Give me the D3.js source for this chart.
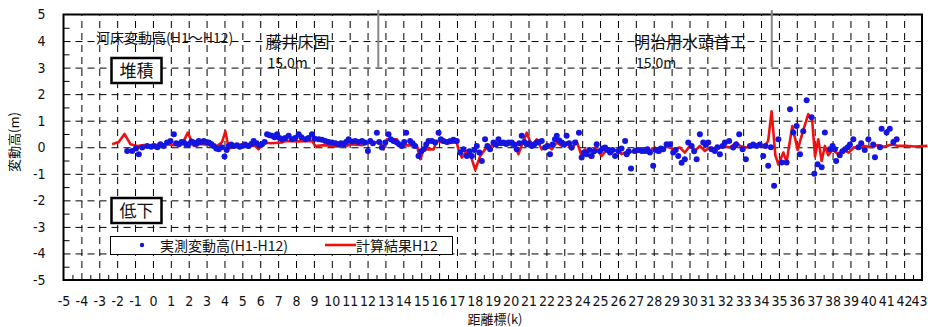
<!DOCTYPE html>
<html>
<head>
<meta charset="utf-8">
<script src="https://cdn.jsdelivr.net/npm/d3@7"></script>
<style>
  html, body { margin: 0; padding: 0; background: #fff; }
  svg { display: block; }
  text { font-family: "Noto Sans CJK JP", "Liberation Sans", sans-serif; }
  .tick text { font-family: "Liberation Sans Narrow", "DejaVu Sans Condensed", "Liberation Sans", sans-serif; }
</style>
</head>
<body>
<svg id="chart" width="928" height="327"></svg>
<script>
// 距離標 (k) of the measured bed-change points
const measuredK = [
  -1.44, -1.16, -0.95, -0.79, -0.6, -0.32, -0.1, 0.05, 0.25, 0.42, 0.6, 0.79, 0.98, 1.17, 1.3, 1.45,
  1.6, 1.73, 1.87, 2.0, 2.15, 2.28, 2.42, 2.56, 2.7, 2.84, 2.98, 3.12, 3.26, 3.4, 3.54, 3.68,
  3.85, 4.0, 4.12, 4.24, 4.38, 4.52, 4.7, 4.85, 4.98, 5.15, 5.35, 5.5, 5.63, 5.8, 5.95, 6.1,
  6.24, 6.38, 6.52, 6.66, 6.8, 6.94, 7.08, 7.22, 7.4, 7.59, 7.78, 7.95, 8.15, 8.3, 8.52, 8.7,
  8.89, 9.05, 9.27, 9.45, 9.64, 9.82, 10.01, 10.2, 10.38, 10.52, 10.66, 10.8, 10.94, 11.12, 11.31, 11.5,
  11.69, 11.85, 12.02, 12.15, 12.3, 12.52, 12.65, 12.8, 12.99, 13.17, 13.3, 13.45, 13.64, 13.78, 13.92, 14.05,
  14.16, 14.38, 14.52, 14.66, 14.85, 15.0, 15.13, 15.28, 15.41, 15.6, 15.78, 15.97, 16.1, 16.25, 16.45, 16.62,
  16.8, 16.99, 17.18, 17.36, 17.55, 17.7, 17.83, 17.97, 18.11, 18.25, 18.39, 18.57, 18.7, 18.85, 19.04, 19.18,
  19.32, 19.46, 19.6, 19.75, 19.88, 20.06, 20.2, 20.34, 20.48, 20.62, 20.76, 20.9, 21.04, 21.18, 21.32, 21.46,
  21.6, 21.74, 21.92, 22.06, 22.2, 22.34, 22.48, 22.58, 22.72, 22.86, 23.0, 23.13, 23.27, 23.41, 23.6, 23.82,
  23.97, 24.1, 24.25, 24.4, 24.53, 24.67, 24.81, 25.0, 25.14, 25.28, 25.42, 25.56, 25.7, 25.84, 26.02, 26.2,
  26.4, 26.49, 26.6, 26.73, 26.95, 27.12, 27.33, 27.51, 27.65, 27.79, 27.97, 28.1, 28.25, 28.4, 28.53, 28.72,
  28.91, 29.09, 29.23, 29.37, 29.56, 29.74, 29.93, 30.12, 30.26, 30.4, 30.58, 30.77, 30.9, 31.05, 31.23, 31.42,
  31.56, 31.7, 31.85, 31.98, 32.22, 32.44, 32.6, 32.78, 32.97, 33.15, 33.38, 33.56, 33.75, 33.93, 34.12, 34.25,
  34.4, 34.55, 34.73, 34.97, 35.15, 35.43, 35.62, 35.8, 35.99, 36.18, 36.36, 36.55, 36.83, 36.98, 37.16, 37.39,
  37.57, 37.85, 38.0, 38.13, 38.2, 38.4, 38.55, 38.7, 38.85, 38.97, 39.16, 39.44, 39.6, 39.8, 40.0, 40.27,
  40.37, 40.65, 40.74, 41.02, 41.2, 41.4, 41.58
];
// 実測変動高 (H1-H12), m
const measuredDz = [
  -0.14, -0.14, -0.05, -0.26, -0.01, 0.05, 0.02, 0.05, 0.0, 0.11, 0.05, 0.18, 0.24, 0.49, 0.15, 0.11,
  0.2, 0.18, 0.1, 0.11, 0.22, 0.18, 0.12, 0.24, 0.2, 0.24, 0.2, 0.18, 0.12, 0.05, -0.05, -0.08,
  0.0, -0.35, -0.1, 0.05, 0.1, 0.05, 0.08, 0.02, 0.05, 0.1, 0.05, 0.12, 0.24, 0.15, 0.08, 0.11,
  0.2, 0.49, 0.45, 0.43, 0.38, 0.49, 0.35, 0.3, 0.35, 0.43, 0.3, 0.35, 0.49, 0.38, 0.3, 0.35,
  0.49, 0.32, 0.3, 0.28, 0.24, 0.2, 0.18, 0.15, 0.11, 0.15, 0.11, 0.2, 0.3, 0.22, 0.24, 0.2,
  0.24, 0.18, -0.14, 0.24, 0.15, 0.55, 0.2, -0.01, 0.18, 0.49, 0.3, 0.24, 0.18, 0.1, 0.05, 0.2,
  0.55, 0.24, 0.15, 0.05, -0.33, -0.15, -0.08, 0.1, 0.24, 0.24, 0.18, 0.55, 0.3, 0.24, 0.2, 0.24,
  0.28, 0.24, -0.2, -0.08, -0.33, -0.15, -0.33, -0.1, 0.05, -0.2, -0.52, 0.3, 0.05, -0.08, 0.18, 0.1,
  0.3, 0.15, 0.18, 0.12, 0.18, 0.18, 0.1, -0.08, 0.15, 0.43, 0.2, 0.11, 0.15, 0.05, 0.1, 0.18,
  0.2, 0.24, -0.01, 0.05, -0.26, 0.1, 0.3, 0.43, 0.25, 0.18, 0.1, 0.43, 0.15, -0.01, 0.18, 0.55,
  -0.39, -0.2, -0.26, -0.1, -0.33, -0.15, 0.11, -0.14, -0.05, -0.01, -0.1, -0.2, -0.1, -0.33, -0.14, -0.05,
  0.24, -0.26, -0.15, -0.8, -0.14, -0.1, -0.14, -0.14, -0.08, -0.2, -0.7, -0.1, -0.14, -0.05, -0.08, 0.11,
  0.11, -0.2, -0.1, -0.33, -0.58, -0.45, 0.18, 0.05, -0.15, -0.45, 0.49, 0.18, 0.1, 0.18, -0.08, -0.14,
  0.0, -0.26, 0.05, 0.18, 0.24, -0.01, 0.1, 0.49, -0.08, -0.45, 0.05, 0.1, 0.05, 0.1, -0.33, 0.05,
  -0.7, 0.0, -1.45, 0.3, -0.57, -0.57, 1.43, 0.56, 0.8, -0.26, 0.6, 1.77, 1.13, -1.0, -0.64, -0.75,
  0.56, -0.08, 0.05, -0.08, -0.52, -0.3, -0.15, -0.08, 0.0, 0.1, 0.3, 0.0, 0.15, -0.1, 0.3, 0.1,
  -0.38, 0.0, 0.7, 0.56, 0.7, 0.2, 0.3
];
// 計算結果H12: 距離標 (k) and bed change (m)
const calcK = [
  -2.28, -1.91, -1.59, -1.25, -0.88, -0.5, -0.14, 0.3, 0.79, 1.2, 1.63, 1.95, 2.28, 2.65, 3.03, 3.3,
  3.59, 3.87, 4.05, 4.24, 4.52, 4.89, 5.3, 5.73, 5.91, 6.1, 6.6, 7.22, 7.4, 8.1, 8.89, 9.08,
  9.6, 10.2, 10.76, 11.13, 11.7, 12.15, 12.71, 12.9, 13.08, 13.64, 13.83, 14.3, 14.76, 14.95, 15.13, 15.69,
  15.87, 16.4, 16.99, 17.08, 17.27, 17.55, 17.74, 18.02, 18.3, 18.57, 18.85, 19.23, 19.69, 20.25, 20.43, 20.9,
  21.18, 21.46, 21.74, 22.02, 22.3, 22.58, 22.86, 23.13, 23.41, 23.69, 23.97, 24.16, 24.44, 24.72, 25.09, 25.37,
  25.65, 26.02, 26.2, 26.58, 26.95, 27.23, 27.6, 28.07, 28.35, 28.72, 29.09, 29.46, 29.74, 30.02, 30.3, 30.58,
  30.86, 31.14, 31.51, 31.89, 32.26, 32.63, 32.82, 33.19, 33.56, 33.93, 34.21, 34.4, 34.59, 34.8, 34.97, 35.25,
  35.43, 35.75, 36.05, 36.3, 36.64, 36.86, 37.02, 37.2, 37.39, 37.57, 37.76, 38.0, 38.3, 38.6, 38.9, 39.2,
  39.5, 39.8, 40.2, 40.5, 40.9, 41.3, 41.7, 42.1, 42.6, 43.3
];
const calcDz = [
  0.11, 0.2, 0.5, 0.11, 0.05, 0.08, 0.05, 0.1, 0.11, 0.08, 0.11, 0.55, 0.05, 0.12, 0.1, 0.05,
  0.05, 0.2, 0.6, -0.05, 0.0, 0.05, 0.05, 0.05, -0.08, 0.18, 0.15, 0.18, 0.24, 0.22, 0.24, 0.05,
  0.08, 0.03, 0.05, 0.11, 0.08, 0.18, 0.18, -0.08, 0.3, 0.3, 0.05, 0.08, 0.05, -0.45, -0.08, -0.08,
  0.24, 0.15, 0.18, -0.08, -0.39, -0.14, -0.26, -0.85, -0.33, -0.08, 0.05, 0.11, 0.11, 0.11, -0.26, 0.55,
  0.05, 0.3, -0.08, 0.11, -0.08, 0.18, 0.05, 0.18, -0.08, 0.24, -0.33, -0.08, -0.39, -0.01, -0.33, -0.1,
  -0.14, -0.1, -0.26, -0.14, -0.2, -0.14, -0.2, -0.01, -0.2, 0.05, -0.08, -0.01, -0.2, 0.05, -0.14, 0.05,
  -0.14, -0.01, -0.08, 0.05, -0.01, 0.18, 0.05, -0.01, 0.05, 0.05, 0.05, 0.24, 1.35, -0.3, -0.65, -0.2,
  -0.55, 0.8, -0.1, 0.5, 1.25, 1.0, -0.35, 0.3, -0.52, 0.05, -0.3, -0.1, -0.25, -0.1, -0.2, 0.0,
  -0.05, 0.05, 0.0, 0.08, 0.02, 0.1, 0.05, 0.05, 0.03, 0.05
];
// Structures marked along the reach
const structureNames = ["藤井床固", "明治用水頭首工"];
const structureHeights = ["15.0m", "15.0m"];
const structureK = [12.6, 34.6];
// Axis ticks
const xTicks = d3.range(-5, 44, 1);
const yTicks = d3.range(-5, 6, 1);

const svg = d3.select("#chart");
const plotL = 63.5, plotR = 922, plotT = 14.5, plotB = 280;
const x = d3.scaleLinear().domain([-5, 43]).range([plotL, plotR]);
const y = d3.scaleLinear().domain([-5, 5]).range([plotB, plotT]);
const fmt = d => String(d);

// dashed grid
svg.append("g")
  .attr("transform", `translate(0,${plotB})`)
  .call(d3.axisBottom(x).tickValues(xTicks.filter(d => d > -5 && d < 43)).tickSize(-(plotB - plotT)).tickFormat(""))
  .call(g => g.select(".domain").remove())
  .call(g => g.selectAll("line").attr("stroke", "#000").attr("stroke-width", 1).attr("stroke-dasharray", "7,5"));
svg.append("g")
  .attr("transform", `translate(${plotL},0)`)
  .call(d3.axisLeft(y).tickValues(yTicks.filter(d => d > -5 && d < 5)).tickSize(-(plotR - plotL)).tickFormat(""))
  .call(g => g.select(".domain").remove())
  .call(g => g.selectAll("line").attr("stroke", "#000").attr("stroke-width", 1).attr("stroke-dasharray", "7,5"));

// inner minor ticks on the left and bottom edges
svg.append("g")
  .attr("transform", `translate(${plotL},0)`)
  .call(d3.axisRight(y).tickValues(d3.range(-4.5, 5, 1)).tickSize(6).tickFormat(""))
  .call(g => g.select(".domain").remove())
  .call(g => g.selectAll("line").attr("stroke", "#000"));
svg.append("g")
  .attr("transform", `translate(0,${plotB})`)
  .call(d3.axisTop(x).tickValues(d3.range(-4.5, 43, 1)).tickSize(5).tickFormat(""))
  .call(g => g.select(".domain").remove())
  .call(g => g.selectAll("line").attr("stroke", "#000"));

// tick labels
svg.append("g")
  .attr("transform", `translate(0,${plotB})`)
  .call(d3.axisBottom(x).tickValues(xTicks).tickSize(0).tickPadding(16).tickFormat(fmt))
  .call(g => g.select(".domain").remove())
  .call(g => g.selectAll("text").attr("font-size", 14).attr("fill", "#111"))
  .call(g => g.selectAll("text").filter(d => d === 43).attr("dx", "-3"));
svg.append("g")
  .attr("transform", `translate(${plotL},0)`)
  .call(d3.axisLeft(y).tickValues(yTicks).tickSize(0).tickPadding(18).tickFormat(fmt))
  .call(g => g.select(".domain").remove())
  .call(g => g.selectAll("text").attr("font-size", 14).attr("fill", "#111"));

// frame
svg.append("rect")
  .attr("x", plotL).attr("y", plotT)
  .attr("width", plotR - plotL).attr("height", plotB - plotT)
  .attr("fill", "none").attr("stroke", "#000").attr("stroke-width", 2);

// structure markers
structureK.forEach(k => {
  svg.append("line")
    .attr("x1", x(k)).attr("x2", x(k)).attr("y1", 10).attr("y2", 67)
    .attr("stroke", "#888").attr("stroke-width", 2);
});
const labelK = [6.3, 26.9];
structureNames.forEach((name, i) => {
  svg.append("text").attr("x", x(labelK[i])).attr("y", 48)
    .attr("font-size", 16).attr("fill", "#111").text(name);
  svg.append("text").attr("x", x(labelK[i]) + 2).attr("y", 68)
    .attr("font-size", 14).attr("fill", "#111").text(structureHeights[i]);
});
svg.append("text").attr("x", 96).attr("y", 43)
  .attr("font-size", 14).attr("fill", "#111").text("河床変動高(H1～H12)");

// boxed notes
[["堆積", 58], ["低下", 198]].forEach(([t, yy]) => {
  svg.append("rect").attr("x", 111.5).attr("y", yy).attr("width", 50).attr("height", 25)
    .attr("fill", "#fff").attr("stroke", "#000").attr("stroke-width", 2.5);
  svg.append("text").attr("x", 136.5).attr("y", yy + 12.5).attr("dy", "0.36em")
    .attr("text-anchor", "middle").attr("font-size", 17).attr("fill", "#111").text(t);
});

// calculated line
const line = d3.line().x(d => x(d[0])).y(d => y(d[1]));
svg.append("path")
  .datum(calcK.map((k, i) => [k, calcDz[i]]))
  .attr("d", line)
  .attr("fill", "none").attr("stroke", "#ee1111").attr("stroke-width", 2.6)
  .attr("stroke-linejoin", "round");

// measured points
svg.append("g").selectAll("circle")
  .data(measuredK.map((k, i) => [k, measuredDz[i]]))
  .join("circle")
  .attr("cx", d => x(d[0])).attr("cy", d => y(d[1])).attr("r", 3)
  .attr("fill", "#1515e0");

// legend
const lg = svg.append("g");
lg.append("rect").attr("x", 110.5).attr("y", 236.5).attr("width", 342).attr("height", 18)
  .attr("fill", "#fff").attr("stroke", "#000").attr("stroke-width", 1);
lg.append("circle").attr("cx", 142).attr("cy", 245).attr("r", 2.2).attr("fill", "#1515e0");
lg.append("text").attr("x", 160).attr("y", 245.5).attr("dy", "0.36em")
  .attr("font-size", 14).attr("fill", "#111").text("実測変動高(H1-H12)");
lg.append("line").attr("x1", 325).attr("x2", 356).attr("y1", 245).attr("y2", 245)
  .attr("stroke", "#ee1111").attr("stroke-width", 2.6);
lg.append("text").attr("x", 356).attr("y", 245.5).attr("dy", "0.36em")
  .attr("font-size", 14).attr("fill", "#111").text("計算結果H12");

// axis titles
svg.append("text").attr("transform", "translate(19,142) rotate(-90)")
  .attr("text-anchor", "middle").attr("font-size", 13).attr("fill", "#111").text("変動高(m)");
svg.append("text").attr("x", 495).attr("y", 324)
  .attr("text-anchor", "middle").attr("font-size", 13).attr("fill", "#111").text("距離標(k)");
</script>
</body>
</html>
